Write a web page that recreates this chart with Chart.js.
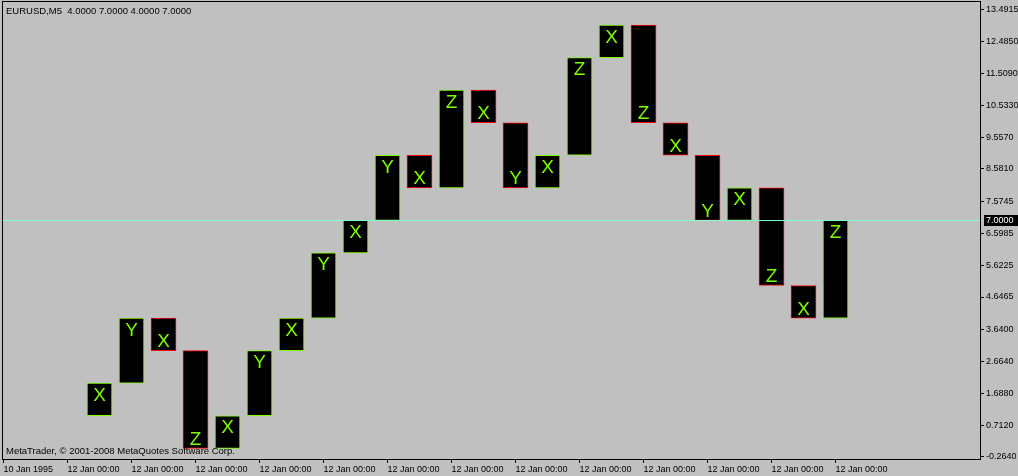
<!DOCTYPE html>
<html>
<head>
<meta charset="utf-8">
<script src="https://cdn.jsdelivr.net/npm/chart.js@4.4.0/dist/chart.umd.min.js"></script>
<style>
  html, body { margin: 0; padding: 0; background: #c0c0c0; }
  #caixa { width: 1018px; height: 476px; }
</style>
</head>
<body>
<div id="caixa"><canvas id="grafico"></canvas></div>
<script>
// dados das barras (posicao no eixo x, abertura, fechamento, letra)
const posicoes = [3, 4, 5, 6, 7, 8, 9, 10, 11, 12, 13, 14, 15, 16, 17, 18, 19, 20, 21, 22, 23, 24, 25, 26]
const aberturas = [1, 2, 4, 3, 0, 1, 3, 4, 6, 7, 9, 8, 11, 10, 8, 9, 12, 13, 10, 9, 7, 8, 5, 4]
const fechamentos = [2, 4, 3, 0, 1, 3, 4, 6, 7, 9, 8, 11, 10, 8, 9, 12, 13, 10, 9, 7, 8, 5, 4, 7]
const letras = ['X', 'Y', 'X', 'Z', 'X', 'Y', 'X', 'Y', 'X', 'Y', 'X', 'Z', 'X', 'Y', 'X', 'Z', 'X', 'Z', 'X', 'Y', 'X', 'Z', 'X', 'Z']

// eixo x
const posicoesX = [0, 2, 4, 6, 8, 10, 12, 14, 16, 18, 20, 22, 24, 26]
const rotulosX = ['10 Jan 1995', '12 Jan 00:00', '12 Jan 00:00', '12 Jan 00:00', '12 Jan 00:00', '12 Jan 00:00', '12 Jan 00:00',
  '12 Jan 00:00', '12 Jan 00:00', '12 Jan 00:00', '12 Jan 00:00', '12 Jan 00:00', '12 Jan 00:00', '12 Jan 00:00']

// eixo de precos
const precosY = [-0.264, 0.712, 1.688, 2.664, 3.64, 4.6465, 5.6225, 6.5985, 7.5745, 8.581, 9.557, 10.533, 11.509, 12.485, 13.4915]

const titulo = 'EURUSD,M5  4.0000 7.0000 4.0000 7.0000'
const rodape = 'MetaTrader, \u00a9 2001-2008 MetaQuotes Software Corp.'

const VERDE = '#7cfc00'
const VERMELHO = '#ff0000'
const FONTE = "'Liberation Sans', Arial, sans-serif"

const dados = posicoes.map((p, i) => ({
  x: p,
  y: [Math.min(aberturas[i], fechamentos[i]), Math.max(aberturas[i], fechamentos[i])]
}))
const bordas = aberturas.map((a, i) => fechamentos[i] >= a ? VERDE : VERMELHO)

const ultimo = fechamentos[fechamentos.length - 1]

// desenha moldura, letras, linha do preco atual e textos
const extras = {
  id: 'extras',
  afterDatasetsDraw(chart) {
    const ctx = chart.ctx
    const y = chart.scales.y
    const meta = chart.getDatasetMeta(0)
    ctx.save()
    ctx.font = '19px ' + FONTE
    ctx.fillStyle = VERDE
    ctx.textAlign = 'center'
    ctx.textBaseline = 'alphabetic'
    meta.data.forEach((barra, i) => {
      const topo = y.getPixelForValue(Math.max(aberturas[i], fechamentos[i]))
      const base = y.getPixelForValue(Math.min(aberturas[i], fechamentos[i]))
      if (fechamentos[i] >= aberturas[i]) {
        ctx.fillText(letras[i], barra.x, topo + 17.5)
      } else {
        ctx.fillText(letras[i], barra.x, base - 3.5)
      }
    })
    ctx.restore()
  },
  afterDraw(chart) {
    const ctx = chart.ctx
    const a = chart.chartArea
    const y = chart.scales.y
    ctx.save()
    // linha do preco atual
    const py = Math.round(y.getPixelForValue(ultimo)) + 0.5
    ctx.strokeStyle = '#7fffd4'
    ctx.lineWidth = 1
    ctx.beginPath()
    ctx.moveTo(a.left, py)
    ctx.lineTo(a.right, py)
    ctx.stroke()
    // moldura
    ctx.strokeStyle = '#000'
    ctx.strokeRect(a.left + 0.5, a.top + 0.5, a.right - a.left, a.bottom - a.top)
    // etiqueta do preco
    ctx.fillStyle = '#000'
    ctx.fillRect(a.right + 4, py - 5.5, 34, 11)
    ctx.fillStyle = '#fff'
    ctx.font = '9px ' + FONTE
    ctx.textAlign = 'left'
    ctx.textBaseline = 'middle'
    ctx.fillText(ultimo.toFixed(4), a.right + 6, py + 0.5)
    // textos
    ctx.fillStyle = '#000'
    ctx.font = '9.5px ' + FONTE
    ctx.textBaseline = 'alphabetic'
    ctx.fillText(titulo, a.left + 4, 14)
    ctx.fillText(rodape, a.left + 4, 454)
    ctx.restore()
  }
}

Chart.defaults.font.family = FONTE
Chart.defaults.font.size = 9
Chart.defaults.color = '#000'

new Chart(document.getElementById('grafico'), {
  type: 'bar',
  data: {
    datasets: [{
      data: dados,
      backgroundColor: '#000',
      borderColor: bordas,
      borderWidth: 1,
      borderSkipped: false,
      barThickness: 25
    }]
  },
  options: {
    responsive: true,
    maintainAspectRatio: false,
    animation: false,
    layout: { padding: { left: 2, top: 1, right: 0, bottom: 0 } },
    plugins: {
      legend: { display: false },
      tooltip: { enabled: false }
    },
    scales: {
      x: {
        type: 'linear',
        offset: false,
        min: -0.046875,
        max: 30.515625,
        border: { display: false },
        grid: { offset: false, drawOnChartArea: false, tickLength: 4, color: '#000' },
        ticks: {
          autoSkip: false,
          maxRotation: 0,
          align: 'start',
          padding: 1,
          callback: (v, i) => rotulosX[i]
        },
        afterBuildTicks: s => { s.ticks = posicoesX.map(v => ({ value: v })) },
        afterFit: s => { s.height = 17; s.paddingLeft = 0; s.paddingRight = 0 }
      },
      y: {
        position: 'right',
        min: -0.3286,
        max: 13.738,
        border: { display: false },
        grid: { drawOnChartArea: false, tickLength: 4, color: '#000' },
        ticks: {
          padding: 2,
          callback: v => v.toFixed(4)
        },
        afterBuildTicks: s => { s.ticks = precosY.map(v => ({ value: v })) },
        afterFit: s => { s.width = 38; s.paddingTop = 0; s.paddingBottom = 0 }
      }
    }
  },
  plugins: [extras]
})
</script>
</body>
</html>
